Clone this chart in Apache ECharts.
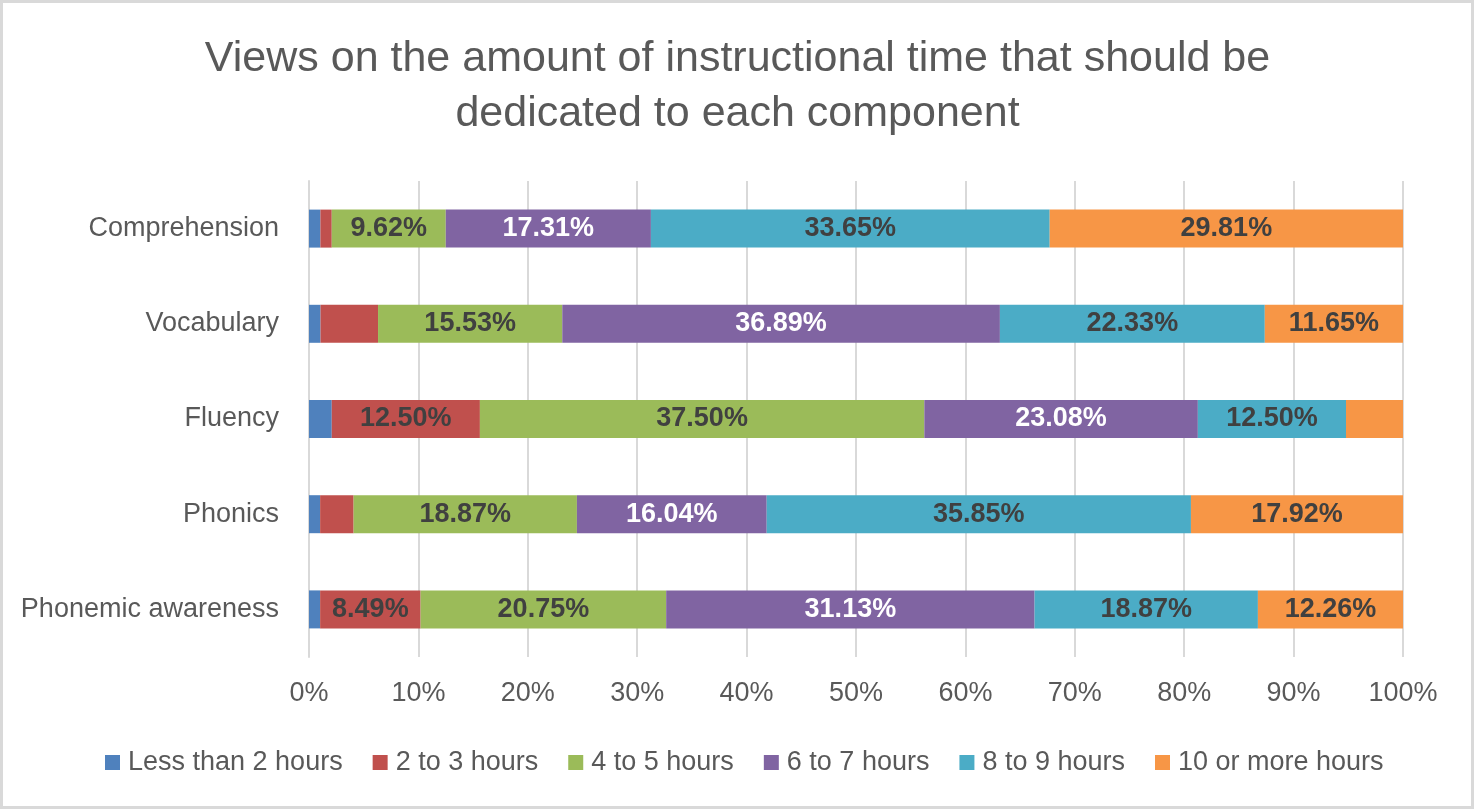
<!DOCTYPE html>
<html>
<head>
<meta charset="utf-8">
<script src="https://cdn.jsdelivr.net/npm/echarts@6/dist/echarts.min.js"></script>
<style>
html,body{margin:0;padding:0;background:#fff;}
#chart{width:1475px;height:811px;}
</style>
</head>
<body>
<div id="chart"></div>
<script>
// Categories listed bottom-to-top (Excel order)
const categories = ['Phonemic awareness', 'Phonics', 'Fluency', 'Vocabulary', 'Comprehension'];
const seriesNames = ['Less than 2 hours', '2 to 3 hours', '4 to 5 hours', '6 to 7 hours', '8 to 9 hours', '10 or more hours'];
// Raw percentages of respondents (rows do not sum to 100; chart is 100% stacked)
const lessThan2 = [0.94, 0.94, 1.92, 0.97, 0.96];
const hours2to3 = [8.49, 2.83, 12.50, 4.85, 0.96];
const hours4to5 = [20.75, 18.87, 37.50, 15.53, 9.62];
const hours6to7 = [31.13, 16.04, 23.08, 36.89, 17.31];
const hours8to9 = [18.87, 35.85, 12.50, 22.33, 33.65];
const hours10plus = [12.26, 17.92, 4.81, 11.65, 29.81];
const colors = ['#4F81BD', '#C0504D', '#9BBB59', '#8064A2', '#4BACC6', '#F79646'];
const labelColors = ['#404040', '#404040', '#404040', '#FFFFFF', '#404040', '#404040'];
const labelThreshold = 5;

const allSeries = [lessThan2, hours2to3, hours4to5, hours6to7, hours8to9, hours10plus];
const totals = categories.map((c, i) => allSeries.reduce((s, arr) => s + arr[i], 0));

const FONT = '"Liberation Sans", Arial, sans-serif';

const chart = echarts.init(document.getElementById('chart'), null, {renderer: 'canvas'});
const option = {
  animation: false,
  backgroundColor: '#ffffff',
  textStyle: {fontFamily: FONT},
  title: {
    text: 'Views on the amount of instructional time that should be\ndedicated to each component',
    left: 737.5,
    top: 32,
    padding: 0,
    textAlign: 'center',
    textStyle: {fontFamily: FONT, fontSize: 43, fontWeight: 'normal', color: '#595959', lineHeight: 55}
  },
  graphic: [{
    type: 'rect', silent: true,
    shape: {x: 1.5, y: 1.5, width: 1471, height: 806},
    style: {fill: 'none', stroke: '#d9d9d9', lineWidth: 3}
  }],
  legend: {
    data: seriesNames,
    left: 105,
    top: 749,
    padding: 0,
    itemWidth: 15,
    itemHeight: 15,
    itemGap: 30,
    icon: 'rect',
    textStyle: {fontFamily: FONT, fontSize: 27, color: '#595959', padding: [0, 0, 0, 3]}
  },
  grid: {left: 309, right: 72, top: 181, bottom: 154, containLabel: false},
  xAxis: {
    type: 'value', min: 0, max: 100, interval: 10,
    axisLine: {show: false},
    axisTick: {show: false},
    axisLabel: {formatter: '{value}%', fontFamily: FONT, fontSize: 27, color: '#595959', margin: 23},
    splitLine: {show: true, lineStyle: {color: '#d9d9d9', width: 2}}
  },
  yAxis: {
    type: 'category', data: categories,
    axisLine: {show: true, lineStyle: {color: '#d9d9d9', width: 2}},
    axisTick: {show: false},
    axisLabel: {fontFamily: FONT, fontSize: 27, color: '#595959', margin: 30}
  },
  series: seriesNames.map((name, si) => ({
    name: name,
    type: 'bar',
    stack: 'total',
    barWidth: 38,
    itemStyle: {color: colors[si]},
    label: {
      show: true,
      position: 'inside',
      fontFamily: FONT,
      fontSize: 27,
      fontWeight: 'bold',
      color: labelColors[si],
      formatter: p => p.data.raw.toFixed(2) + '%'
    },
    data: allSeries[si].map((v, i) => ({
      value: v / totals[i] * 100,
      raw: v,
      label: {show: v >= labelThreshold}
    }))
  }))
};
chart.setOption(option);
</script>
</body>
</html>
